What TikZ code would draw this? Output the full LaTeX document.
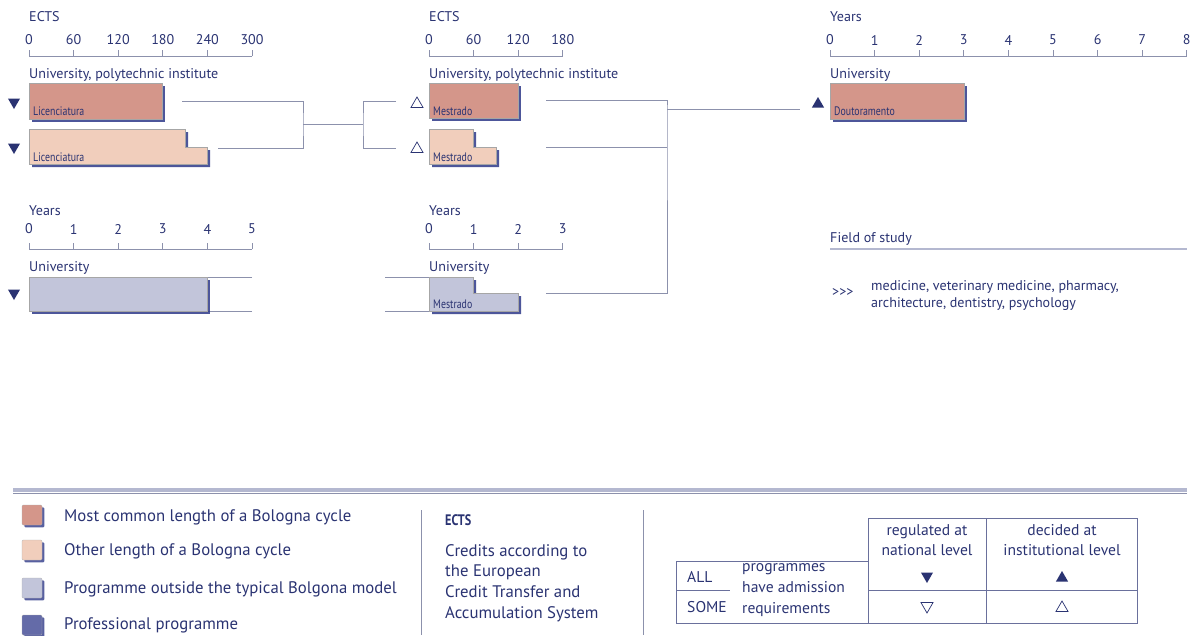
\documentclass[tikz,border=0pt]{standalone}
\usepackage{fontspec}
\setmainfont{PT Sans}
\newfontfamily\narrowfont[FakeStretch=0.8]{PT Sans}
\newfontfamily\narrowbold[FakeStretch=0.8]{PT Sans Bold}
\usetikzlibrary{positioning}
\usetikzlibrary{shapes.geometric, shadows}

\definecolor{mostcommon}{HTML}{D4968A}
\definecolor{otherlen}{HTML}{F1CEBC}
\definecolor{outside}{HTML}{C2C5DA}
\definecolor{professional}{HTML}{646BA8}
\definecolor{shadowblue}{HTML}{2E3888}
\definecolor{txtblue}{HTML}{2A3372}
\definecolor{linegrey}{HTML}{8C91AC}
\definecolor{rulegrey}{HTML}{B4B8D0}

\tikzset{
  txt/.style={text=txtblue, inner sep=0pt, font=\fontsize{12}{14}\selectfont},
  bigtxt/.style={text=txtblue, inner sep=0pt, font=\fontsize{14.3}{17}\selectfont},
  tbltxt/.style={text=txtblue, inner sep=0pt, font=\fontsize{13.3}{17}\selectfont},
  barlabel/.style={text=txtblue, inner sep=0pt, anchor=west, font=\narrowfont\fontsize{10.5}{12}\selectfont},
  conn/.style={draw=linegrey, line width=0.7pt},
  axisline/.style={draw=linegrey, line width=0.7pt},
  bar/.style={draw=black!35, line width=0.3pt,
    drop shadow={shadow xshift=0.9mm, shadow yshift=-0.9mm, fill=shadowblue, opacity=0.85}},
  trifull/.style={regular polygon, regular polygon sides=3, minimum size=0.42cm, inner sep=0pt, fill=txtblue, draw=none},
  triopen/.style={regular polygon, regular polygon sides=3, minimum size=0.42cm, inner sep=0pt, draw=txtblue, line width=0.6pt, fill=white},
  down/.style={shape border rotate=180},
  legbox/.style={draw=black!30, line width=0.3pt, rounded corners=1pt,
    drop shadow={shadow xshift=0.7mm, shadow yshift=-0.7mm, fill=shadowblue, opacity=0.8}},
  tblline/.style={draw=txtblue!70, line width=0.7pt}
}

\begin{document}
\begin{tikzpicture}[x=0.03cm,y=-0.03cm]
\useasboundingbox (0,0) rectangle (1194,635);

% ECTS scale, first cycle
\node[txt, anchor=west] (ects1) at (29,17) {ECTS};
\draw[axisline] (29,56) -- (252,56);
\foreach \i/\l in {0/0,1/60,2/120,3/180,4/240,5/300} {
  \draw[axisline] (29+44.6*\i,56) -- (29+44.6*\i,50);
  \node[txt] at (29+44.6*\i,40) {\l};
}
\node[txt, anchor=west] (inst1) at (29,75) {University, polytechnic institute};
\draw[bar, fill=mostcommon] (29,83) rectangle (162,119);
\node[barlabel] (lic1) at (33,111) {Licenciatura};
\draw[bar, fill=otherlen] (29,129) -- (185,129) -- (185,147) -- (207,147) -- (207,164) -- (29,164) -- cycle;
\node[barlabel] (lic2) at (33,157) {Licenciatura};
\node[trifull, down] (adm1) at (14,102) {};
\node[trifull, down] (adm2) at (14,147) {};

% ECTS scale, second cycle
\node[txt, anchor=west] (ects2) at (429,17) {ECTS};
\draw[axisline] (429,56) -- (563,56);
\foreach \i/\l in {0/0,1/60,2/120,3/180} {
  \draw[axisline] (429+44.6*\i,56) -- (429+44.6*\i,50);
  \node[txt] at (429+44.6*\i,40) {\l};
}
\node[txt, anchor=west] (inst2) at (429,75) {University, polytechnic institute};
\draw[bar, fill=mostcommon] (429,83) rectangle (518,118);
\node[barlabel] (mes1) at (433,111) {Mestrado};
\draw[bar, fill=otherlen] (429,129) -- (473,129) -- (473,147) -- (496,147) -- (496,164) -- (429,164) -- cycle;
\node[barlabel] (mes2) at (433,157) {Mestrado};
\node[triopen] (adm3) at (417,104) {};
\node[triopen] (adm4) at (417,149) {};

% Years scale, third cycle
\node[txt, anchor=west] (years3) at (830,17) {Years};
\draw[axisline] (830,56) -- (1187,56);
\foreach \i in {0,...,8} {
  \draw[axisline] (830+44.6*\i,56) -- (830+44.6*\i,50);
  \node[txt] at (830+44.6*\i,40) {\i};
}
\node[txt, anchor=west] (uni3) at (830,75) {University};
\draw[bar, fill=mostcommon] (830,83) rectangle (964,119);
\node[barlabel] (dout) at (834,111) {Doutoramento};
\node[trifull] (adm5) at (818,104) {};

% Years scale, long first cycle
\node[txt, anchor=west] (years1) at (29,211) {Years};
\draw[axisline] (29,249) -- (252,249);
\foreach \i in {0,...,5} {
  \draw[axisline] (29+44.6*\i,249) -- (29+44.6*\i,243);
  \node[txt] at (29+44.6*\i,229) {\i};
}
\node[txt, anchor=west] (uni1) at (29,268) {University};
\coordinate (int1top) at (252,277);
\coordinate (int1bot) at (252,311);
\draw[conn] (int1top) -- (29,277);
\draw[conn] (int1bot) -- (29,311);
\draw[bar, fill=outside] (29,277) rectangle (207,311);
\node[trifull, down] (adm6) at (14,293) {};

% Years scale, integrated master
\node[txt, anchor=west] (years2) at (429,211) {Years};
\draw[axisline] (429,249) -- (563,249);
\foreach \i in {0,...,3} {
  \draw[axisline] (429+44.6*\i,249) -- (429+44.6*\i,243);
  \node[txt] at (429+44.6*\i,229) {\i};
}
\node[txt, anchor=west] (uni2) at (429,268) {University};
\coordinate (int2top) at (385,277);
\coordinate (int2bot) at (385,311);
\draw[conn] (int2top) -- (473,277);
\draw[conn] (int2bot) -- (429,311);
\draw[bar, fill=outside] (429,277) -- (473,277) -- (473,293) -- (518,293) -- (518,311) -- (429,311) -- cycle;
\node[barlabel] (mes3) at (433,304) {Mestrado};

% connectors
\coordinate (lic1out) at (182,101);
\coordinate (lic2out) at (218,148);
\coordinate (join1) at (303,124);
\coordinate (split1) at (363,124);
\coordinate (mes1in) at (396,101);
\coordinate (mes2in) at (396,148);
\draw[conn] (lic1out) -| (join1) |- (lic2out);
\draw[conn] (join1) -- (split1);
\draw[conn] (mes1in) -| (split1) |- (mes2in);

\coordinate (mes1out) at (546,100);
\coordinate (mes2out) at (546,147);
\coordinate (mes3out) at (546,293);
\coordinate (join2) at (667,109);
\coordinate (doutin) at (800,109);
\draw[conn] (mes1out) -| (join2) |- (mes3out);
\draw[conn] (mes2out) -- (mes2out -| join2);
\draw[conn] (join2) -- (doutin);

% field of study
\node[txt, anchor=west] (field) at (830,239) {Field of study};
\draw[draw=rulegrey, line width=1pt] (830,249) -- (1187,249);
\node[txt, anchor=west] (more) at (832,293) {{>}{>}{>}};
\node[txt, anchor=west, align=left, font=\fontsize{12}{14.5}\selectfont] (fields) at (871,296)
  {medicine, veterinary medicine, pharmacy,\\architecture, dentistry, psychology};

% legend
\draw[draw=rulegrey, line width=3pt] (13,490) -- (1187,490);
\draw[draw=linegrey, line width=1pt] (13,493.5) -- (1187,493.5);

\draw[legbox, fill=mostcommon] (22,505) rectangle (42,525);
\node[bigtxt, anchor=west] (leg1) at (64,517) {Most common length of a Bologna cycle};
\draw[legbox, fill=otherlen] (22,540) rectangle (42,560);
\node[bigtxt, anchor=west] (leg2) at (64,551) {Other length of a Bologna cycle};
\draw[legbox, fill=outside] (22,578) rectangle (42,598);
\node[bigtxt, anchor=west] (leg3) at (64,589) {Programme outside the typical Bolgona model};
\draw[legbox, fill=professional] (22,615) rectangle (42,635);
\node[bigtxt, anchor=west] (leg4) at (64,625) {Professional programme};

\draw[draw=linegrey, line width=0.8pt] (421,510) -- (421,635);
\draw[draw=linegrey, line width=0.8pt] (643,510) -- (643,635);

\node[bigtxt, anchor=west, font=\narrowbold\fontsize{13}{15}\selectfont] (ectshead) at (445,520) {ECTS};
\node[bigtxt, anchor=north west, align=left, font=\fontsize{14.3}{17.6}\selectfont] (ectstext) at (445,544)
  {Credits according to\\the European\\Credit Transfer and\\Accumulation System};

% admission table
\draw[tblline] (868,561) |- (1137,518) -- (1137,623) -| (676,561) -- cycle;
\draw[tblline] (986,518) -- (986,623);
\draw[tblline] (868,561) -- (868,623);
\draw[tblline] (868,590) -- (1137,590);
\draw[tblline] (676,590) -- (730,590);
\node[tbltxt, align=center] (national) at (927,540) {regulated at\\national level};
\node[tbltxt, align=center] (instit) at (1062,540) {decided at\\institutional level};
\node[tbltxt, anchor=west] (all) at (687,577) {ALL};
\node[tbltxt, anchor=west] (some) at (687,607) {SOME};
\node[tbltxt, anchor=west, align=left, font=\fontsize{13.3}{17.8}\selectfont] (progs) at (742,590)
  {programmes\\have admission\\requirements};
\node[trifull, down] (keyA) at (927,576) {};
\node[trifull] (keyB) at (1062,578) {};
\node[triopen, down] (keyC) at (927,606) {};
\node[triopen] (keyD) at (1062,608) {};

\end{tikzpicture}
\end{document}
